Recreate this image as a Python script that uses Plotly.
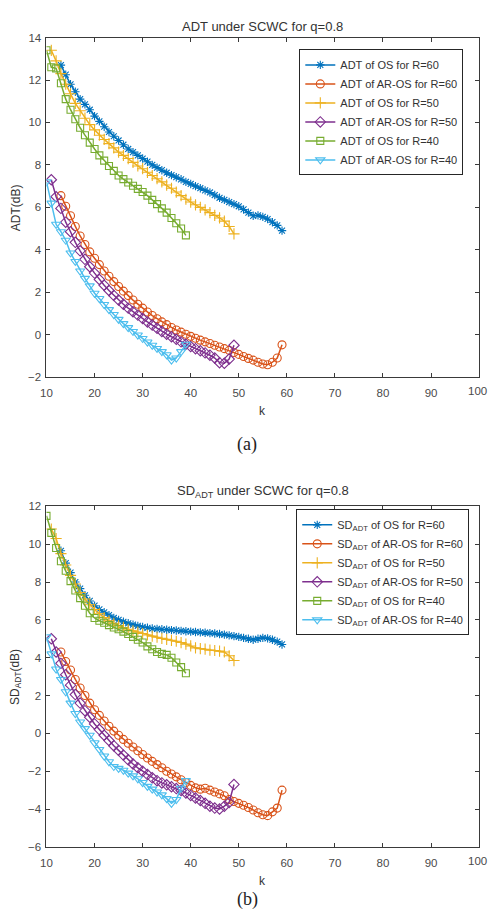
import plotly.graph_objects as go

W, H = 488, 918

# ---------------- data (a) ADT ----------------
k0_os60, adt_os60 = 13, [12.7, 12.25, 11.8, 11.45, 11.1, 10.85, 10.6, 10.3, 10.05, 9.8, 9.55, 9.35, 9.15, 8.95, 8.75, 8.6,
                          8.45, 8.3, 8.15, 8.0, 7.87, 7.75, 7.63, 7.52, 7.42, 7.32, 7.2, 7.1, 7.0, 6.9, 6.8, 6.7, 6.58,
                          6.45, 6.35, 6.25, 6.15, 6.05, 5.9, 5.75, 5.6, 5.62, 5.55, 5.45, 5.3, 5.15, 4.9]
k0_ar60, adt_ar60 = 13, [6.55, 6.05, 5.6, 5.1, 4.65, 4.25, 3.9, 3.6, 3.3, 3.0, 2.75, 2.5, 2.27, 2.05, 1.84, 1.63, 1.43,
                          1.25, 1.07, 0.9, 0.75, 0.6, 0.47, 0.34, 0.22, 0.12, 0.02, -0.08, -0.17, -0.26, -0.34, -0.42,
                          -0.5, -0.58, -0.66, -0.74, -0.84, -0.93, -1.03, -1.12, -1.2, -1.3, -1.38, -1.42, -1.3, -1.1, -0.48]
k0_os50, adt_os50 = 11, [13.4, 12.9, 12.3, 11.8, 11.35, 10.9, 10.55, 10.2, 9.9, 9.65, 9.4, 9.2, 9.0, 8.8, 8.6, 8.45, 8.3,
                          8.12, 7.95, 7.82, 7.65, 7.5, 7.35, 7.2, 7.05, 6.9, 6.72, 6.55, 6.38, 6.25, 6.12, 6.0, 5.88,
                          5.75, 5.62, 5.5, 5.35, 5.1, 4.75]
k0_ar50, adt_ar50 = 11, [7.3, 6.5, 5.95, 5.3, 4.85, 4.35, 3.95, 3.55, 3.2, 2.9, 2.6, 2.33, 2.08, 1.85, 1.63, 1.43, 1.25,
                          1.08, 0.92, 0.76, 0.6, 0.45, 0.3, 0.15, 0.02, -0.1, -0.22, -0.34, -0.45, -0.56, -0.66, -0.76,
                          -0.86, -0.97, -1.1, -1.32, -1.35, -1.15, -0.5]
k0_os40, adt_os40 = 10, [13.4, 12.6, 12.55, 11.85, 11.1, 10.6, 10.15, 9.75, 9.4, 9.05, 8.75, 8.45, 8.2, 7.95, 7.72, 7.5,
                          7.33, 7.17, 7.02, 6.87, 6.72, 6.55, 6.35, 6.15, 5.95, 5.75, 5.5, 5.25, 5.0, 4.68]
k0_ar40, adt_ar40 = 10, [7.2, 6.2, 5.2, 4.85, 4.45, 3.85, 3.45, 3.0, 2.65, 2.3, 1.95, 1.7, 1.42, 1.18, 0.95, 0.72, 0.52,
                          0.33, 0.15, -0.02, -0.18, -0.35, -0.5, -0.65, -0.8, -0.95, -1.2, -1.1, -0.8, -0.45]

# ---------------- data (b) SD_ADT ----------------
sd_os60 = [9.65, 9.0, 8.5, 8.0, 7.65, 7.3, 7.0, 6.75, 6.55, 6.4, 6.25, 6.1, 6.0, 5.9, 5.82, 5.75, 5.68, 5.62, 5.58, 5.54,
           5.52, 5.5, 5.48, 5.46, 5.44, 5.42, 5.4, 5.38, 5.36, 5.34, 5.32, 5.3, 5.28, 5.25, 5.22, 5.18, 5.14, 5.1, 5.05,
           5.0, 4.95, 5.0, 5.05, 5.02, 4.95, 4.85, 4.7]
sd_ar60 = [4.3, 3.8, 3.35, 2.85, 2.4, 2.0, 1.6, 1.25, 0.95, 0.65, 0.38, 0.12, -0.1, -0.32, -0.52, -0.72, -0.92, -1.12,
           -1.3, -1.48, -1.65, -1.82, -2.0, -2.15, -2.3, -2.45, -2.6, -2.75, -2.88, -2.95, -2.9, -3.0, -3.1, -3.2, -3.3,
           -3.5, -3.6, -3.7, -3.8, -3.92, -4.05, -4.2, -4.3, -4.35, -4.15, -3.95, -3.0]
sd_os50 = [10.8, 10.3, 9.5, 8.9, 8.35, 7.9, 7.45, 7.1, 6.8, 6.55, 6.32, 6.12, 5.95, 5.82, 5.7, 5.6, 5.5, 5.42, 5.35, 5.28,
           5.2, 5.14, 5.08, 5.02, 4.97, 4.92, 4.87, 4.8, 4.72, 4.62, 4.52, 4.48, 4.45, 4.4, 4.38, 4.35, 4.3, 4.1, 3.85]
sd_ar50 = [5.0, 4.3, 3.7, 3.1, 2.55, 2.05, 1.6, 1.2, 0.85, 0.5, 0.2, -0.1, -0.38, -0.65, -0.9, -1.15, -1.4, -1.62, -1.82,
           -2.0, -2.18, -2.35, -2.5, -2.62, -2.72, -2.82, -2.92, -3.02, -3.15, -3.28, -3.42, -3.55, -3.7, -3.85, -3.95,
           -4.0, -3.85, -3.65, -2.7]
sd_os40 = [11.5, 10.6, 9.8, 9.1, 8.6, 8.05, 7.55, 7.15, 6.75, 6.35, 6.1, 5.95, 5.85, 5.72, 5.6, 5.5, 5.38, 5.25, 5.1,
           4.95, 4.8, 4.6, 4.45, 4.3, 4.2, 4.15, 4.0, 3.75, 3.5, 3.18]
sd_ar40 = [5.1, 4.2, 3.4, 2.85, 2.2, 1.6, 1.05, 0.6, 0.25, -0.1, -0.5, -0.85, -1.2, -1.5, -1.75, -1.85, -1.95, -2.1,
           -2.25, -2.4, -2.6, -2.8, -2.95, -3.1, -3.25, -3.45, -3.7, -3.5, -2.9, -2.5]

x_ticks = [10, 20, 30, 40, 50, 60, 70, 80, 90, 100]
x_ticktext = ["10", "20", "30", "40", "50", "60", "70", "80", "90", ""]  # "100" drawn as an edge-aligned label
y_ticks_a = [-2, 0, 2, 4, 6, 8, 10, 12, 14]
y_ticks_b = [-6, -4, -2, 0, 2, 4, 6, 8, 10, 12]

names_a = ["ADT of OS for R=60", "ADT of AR-OS for R=60", "ADT of OS for R=50",
           "ADT of AR-OS for R=50", "ADT of OS for R=40", "ADT of AR-OS for R=40"]
names_b = ["SD<sub>ADT</sub> of OS for R=60", "SD<sub>ADT</sub> of AR-OS for R=60", "SD<sub>ADT</sub> of OS for R=50",
           "SD<sub>ADT</sub> of AR-OS for R=50", "SD<sub>ADT</sub> of OS for R=40", "SD<sub>ADT</sub> of AR-OS for R=40"]

colors = ["#0072BD", "#D95319", "#EDB120", "#7E2F8E", "#77AC30", "#4DBEEE"]
symbols = ["asterisk-open", "circle-open", "cross-thin-open", "diamond-open", "square-open", "triangle-down-open"]
sizes = [7, 8, 8, 8, 7, 8]

starts = [k0_os60, k0_ar60, k0_os50, k0_ar50, k0_os40, k0_ar40]
series_a = [adt_os60, adt_ar60, adt_os50, adt_ar50, adt_os40, adt_ar40]
series_b = [sd_os60, sd_ar60, sd_os50, sd_ar50, sd_os40, sd_ar40]

fig = go.Figure()
for i in range(6):
    ka = list(range(starts[i], starts[i] + len(series_a[i])))
    fig.add_trace(go.Scatter(
        x=ka, y=series_a[i], mode="lines+markers", name=names_a[i],
        line=dict(color=colors[i], width=1.5),
        marker=dict(symbol=symbols[i], size=sizes[i], color=colors[i], line=dict(color=colors[i], width=1.1)),
        xaxis="x", yaxis="y", legend="legend"))
for i in range(6):
    kb = list(range(starts[i], starts[i] + len(series_b[i])))
    fig.add_trace(go.Scatter(
        x=kb, y=series_b[i], mode="lines+markers", name=names_b[i],
        line=dict(color=colors[i], width=1.5),
        marker=dict(symbol=symbols[i], size=sizes[i], color=colors[i], line=dict(color=colors[i], width=1.1)),
        xaxis="x2", yaxis="y2", legend="legend2"))

AX = "#3a3a3a"
TICKF = dict(family="Liberation Sans, Arial", size=11.5, color="#4a4a4a")


def px_x(p):
    return p / W


def px_y(p):
    return 1 - p / H


xdom = [px_x(41), px_x(479)]
common_x = dict(range=[10, 100], tickvals=x_ticks, ticktext=x_ticktext, ticks="inside", ticklen=4,
                tickcolor=AX, showline=True, linecolor=AX, linewidth=1, mirror="ticks", showgrid=False,
                zeroline=False, tickfont=TICKF, domain=xdom, ticklabelstandoff=5)
common_y = dict(ticks="inside", ticklen=4, tickcolor=AX, showline=True, linecolor=AX, linewidth=1,
                mirror="ticks", showgrid=False, zeroline=False, tickfont=TICKF, ticklabelstandoff=2)

leg_common = dict(bgcolor="white", bordercolor="#262626", borderwidth=1,
                  font=dict(family="Liberation Sans, Arial", size=11, color="#333"),
                  xanchor="right", yanchor="top", tracegroupgap=0)

fig.update_layout(
    width=W, height=H, margin=dict(l=0, r=0, t=0, b=0),
    paper_bgcolor="white", plot_bgcolor="white",
    xaxis=dict(common_x, anchor="y"),
    yaxis=dict(common_y, range=[-2, 14], tickvals=y_ticks_a, anchor="x",
               domain=[px_y(376), px_y(32)]),
    xaxis2=dict(common_x, anchor="y2"),
    yaxis2=dict(common_y, range=[-6, 12], tickvals=y_ticks_b, anchor="x2",
                domain=[px_y(852), px_y(507)]),
    legend=dict(leg_common, x=px_x(463), y=px_y(44)),
    legend2=dict(leg_common, x=px_x(469), y=px_y(510)),
)

TXT = dict(family="Liberation Sans, Arial", size=13, color="#333")
ann = [
    dict(text="ADT under SCWC for q=0.8", x=px_x(260), y=px_y(21), font=TXT),
    dict(text="SD<sub>ADT</sub> under SCWC for q=0.8", x=px_x(260), y=px_y(492), font=TXT),
    dict(text="k", x=px_x(260), y=px_y(410), font=dict(TXT, size=12)),
    dict(text="k", x=px_x(260), y=px_y(887), font=dict(TXT, size=12)),
    dict(text="ADT(dB)", x=px_x(10), y=px_y(204), textangle=-90, font=dict(TXT, size=12)),
    dict(text="SD<sub>ADT</sub>(dB)", x=px_x(10), y=px_y(680), textangle=-90, font=dict(TXT, size=12)),
    dict(text=str(x_ticks[-1]), x=1.0, y=px_y(390), xanchor="right", font=TICKF, borderpad=0),
    dict(text=str(x_ticks[-1]), x=1.0, y=px_y(866), xanchor="right", font=TICKF, borderpad=0),
    dict(text="(a)", x=px_x(244), y=px_y(444),
         font=dict(family="Liberation Serif, Times New Roman", size=18, color="#222")),
    dict(text="(b)", x=px_x(244), y=0, yanchor="bottom",
         font=dict(family="Liberation Serif, Times New Roman", size=18, color="#222")),
]
for a in ann:
    a.setdefault("yanchor", "middle")
    a.setdefault("xanchor", "center")
    a.update(xref="paper", yref="paper", showarrow=False)
fig.update_layout(annotations=ann)

fig.write_html("out.html")
